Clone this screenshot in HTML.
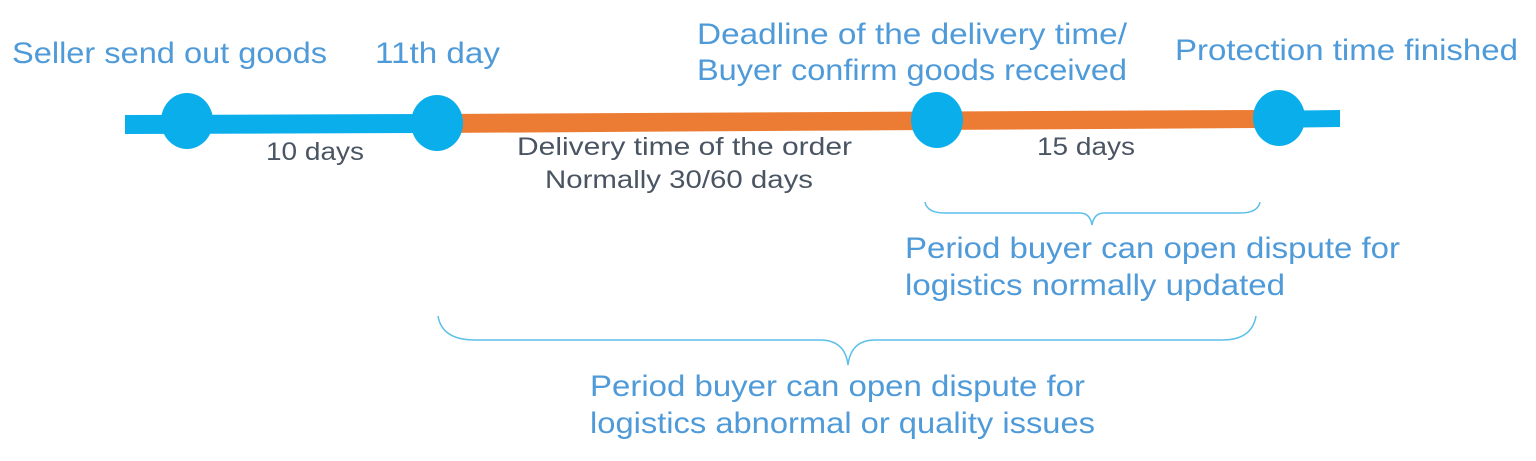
<!DOCTYPE html>
<html><head><meta charset="utf-8"><style>
html,body{margin:0;padding:0;background:#fff;width:1536px;height:461px;overflow:hidden}
svg{display:block}
.b{fill:#4f9ad8;font-family:"Liberation Sans",sans-serif;font-size:30px}
.d{fill:#4a5563;font-family:"Liberation Sans",sans-serif;font-size:25px}
</style></head><body>
<svg width="1536" height="461" viewBox="0 0 1536 461">
<polygon points="125,115 440,114 440,133 125,134" fill="#0aaeea"/>
<polygon points="437,114 1258,110 1258,128 437,133" fill="#ec7c33"/>
<polygon points="1258,111 1340,110 1340,127 1258,128" fill="#0aaeea"/>
<ellipse cx="187" cy="121" rx="26" ry="28" fill="#0aaeea"/>
<ellipse cx="437" cy="123" rx="26" ry="28" fill="#0aaeea"/>
<ellipse cx="937" cy="120" rx="26" ry="28" fill="#0aaeea"/>
<ellipse cx="1279" cy="118" rx="26" ry="28" fill="#0aaeea"/>
<g lengthAdjust="spacingAndGlyphs">
<text class="b" x="12" y="63" textLength="315" lengthAdjust="spacingAndGlyphs">Seller send out goods</text>
<text class="b" x="375" y="63" textLength="125" lengthAdjust="spacingAndGlyphs">11th day</text>
<text class="b" x="697" y="44" textLength="430" lengthAdjust="spacingAndGlyphs">Deadline of the delivery time/</text>
<text class="b" x="697" y="80" textLength="430" lengthAdjust="spacingAndGlyphs">Buyer confirm goods received</text>
<text class="b" x="1175" y="60" textLength="343" lengthAdjust="spacingAndGlyphs">Protection time finished</text>
<text class="d" x="266" y="160" textLength="98" lengthAdjust="spacingAndGlyphs">10 days</text>
<text class="d" x="517" y="155" textLength="335" lengthAdjust="spacingAndGlyphs">Delivery time of the order</text>
<text class="d" x="545" y="188" textLength="268" lengthAdjust="spacingAndGlyphs">Normally 30/60 days</text>
<text class="d" x="1037" y="155" textLength="98" lengthAdjust="spacingAndGlyphs">15 days</text>
<text class="b" x="905" y="258" textLength="495" lengthAdjust="spacingAndGlyphs">Period buyer can open dispute for</text>
<text class="b" x="905" y="295" textLength="380" lengthAdjust="spacingAndGlyphs">logistics normally updated</text>
<text class="b" x="590" y="396" textLength="495" lengthAdjust="spacingAndGlyphs">Period buyer can open dispute for</text>
<text class="b" x="590" y="433" textLength="505" lengthAdjust="spacingAndGlyphs">logistics abnormal or quality issues</text>
</g>
<path d="M925,202 Q927,213 945,213 L1080,213 Q1090,213 1092,225 Q1094,213 1104,213 L1240,213 Q1258,213 1260,202" fill="none" stroke="#5bbfea" stroke-width="1.5"/>
<path d="M438,316 Q442,340 475,340 L820,340 Q845,340 848,365 Q851,340 875,340 L1222,340 Q1252,340 1256,316" fill="none" stroke="#5bbfea" stroke-width="1.5"/>
</svg>
</body></html>
